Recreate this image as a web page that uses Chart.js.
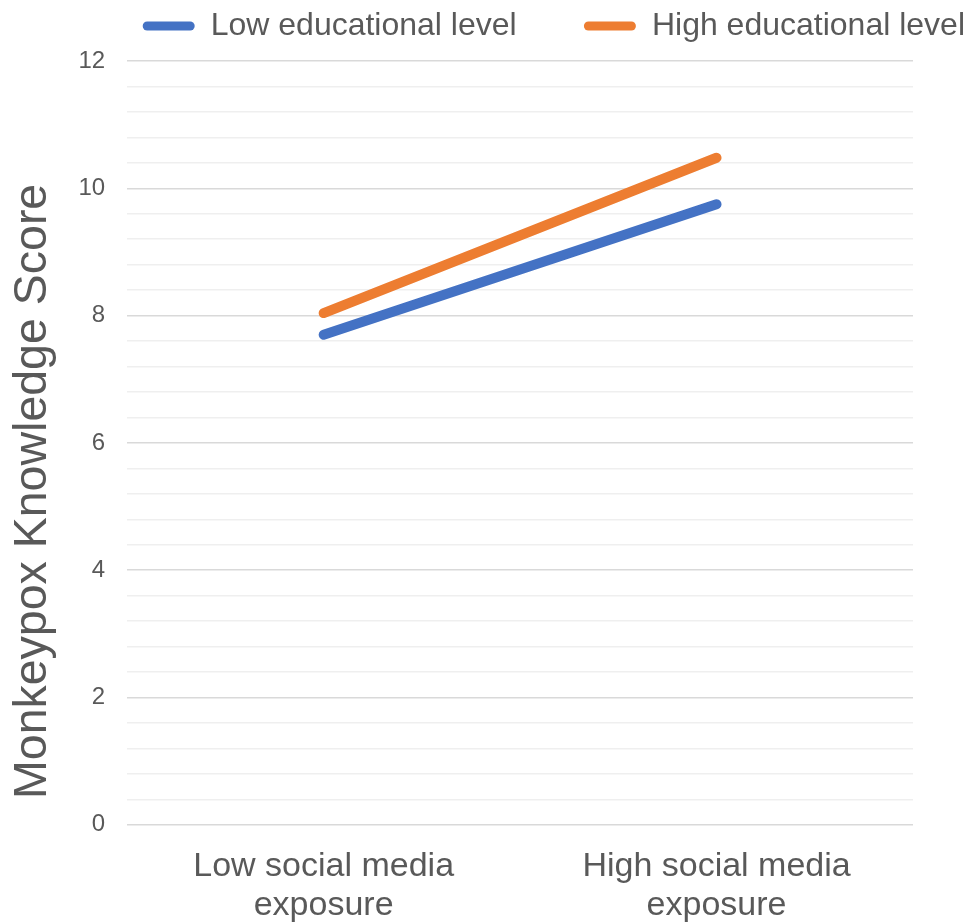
<!DOCTYPE html>
<html>
<head>
<meta charset="utf-8">
<script src="https://cdn.jsdelivr.net/npm/chart.js@4/dist/chart.umd.min.js"></script>
<style>
  html, body { margin: 0; padding: 0; background: #fff; }
  #wrap { width: 970px; height: 922px; }
</style>
</head>
<body>
<div id="wrap"><canvas id="knowledgeChart"></canvas></div>
<script>
const exposureLevels = [['Low social media', 'exposure'], ['High social media', 'exposure']];
const lowEducation = [7.70, 9.75];
const highEducation = [8.04, 10.48];
const yLabelTicks = [0, 2, 4, 6, 8, 10, 12];
const yMinorStep = 0.4;

const textColor = '#595959';
const fontFamily = '"Liberation Sans", Arial, sans-serif';

const isMajor = (v) => yLabelTicks.some((t) => Math.abs(t - v) < 1e-6);

// leaves a little room between the legend row and the plot
const legendGap = {
  id: 'legendGap',
  beforeInit(chart) {
    const fit = chart.legend.fit;
    chart.legend.fit = function () {
      fit.bind(chart.legend)();
      this.height += 9;
    };
  }
};

const ctx = document.getElementById('knowledgeChart').getContext('2d');
new Chart(ctx, {
  type: 'line',
  plugins: [legendGap],
  data: {
    labels: exposureLevels,
    datasets: [
      {
        label: 'Low educational level',
        data: lowEducation,
        borderColor: '#4472C4',
        backgroundColor: '#4472C4',
        borderWidth: 10,
        borderCapStyle: 'round',
        pointRadius: 0,
        pointHoverRadius: 0
      },
      {
        label: 'High educational level',
        data: highEducation,
        borderColor: '#ED7D31',
        backgroundColor: '#ED7D31',
        borderWidth: 10,
        borderCapStyle: 'round',
        pointRadius: 0,
        pointHoverRadius: 0
      }
    ]
  },
  options: {
    responsive: true,
    maintainAspectRatio: false,
    animation: false,
    layout: { padding: { left: 4, right: 0, top: 5, bottom: -25 } },
    plugins: {
      tooltip: { enabled: false },
      legend: {
        position: 'top',
        align: 'end',
        labels: {
          color: textColor,
          font: { family: fontFamily, size: 32 },
          boxWidth: 52,
          boxHeight: 9,
          useBorderRadius: true,
          borderRadius: 4.5,
          padding: 5,
          generateLabels: (chart) => {
            const items = Chart.defaults.plugins.legend.labels.generateLabels(chart);
            return items.map((item, i) => {
              item.lineWidth = 0;
              if (i < items.length - 1) item.text += '       ';
              return item;
            });
          }
        }
      }
    },
    scales: {
      x: {
        offset: true,
        grid: { display: false, drawTicks: false },
        border: { display: false },
        ticks: {
          color: textColor,
          font: { family: fontFamily, size: 34, lineHeight: 1.15 },
          padding: 22,
          maxRotation: 0
        }
      },
      y: {
        min: 0,
        max: 12,
        afterBuildTicks: (scale) => {
          const ticks = [];
          for (let i = 0; i <= Math.round(12 / yMinorStep); i++) {
            ticks.push({ value: Math.round(i * yMinorStep * 10) / 10 });
          }
          scale.ticks = ticks;
        },
        grid: {
          drawTicks: false,
          lineWidth: 1.5,
          color: (c) => isMajor(c.tick.value) ? '#d9d9d9' : '#efefef'
        },
        border: { display: false },
        ticks: {
          autoSkip: false,
          color: textColor,
          font: { family: fontFamily, size: 24 },
          padding: 22,
          callback: (v) => isMajor(v) ? String(Math.round(v)) : ''
        },
        title: {
          display: true,
          align: 'start',
          text: '  Monkeypox Knowledge Score',
          color: textColor,
          font: { family: fontFamily, size: 46.5, lineHeight: 1 },
          padding: { top: 6, bottom: 0 }
        }
      },
      // empty right-hand axis, keeps the plot clear of the legend's right end
      yRight: {
        position: 'right',
        grid: { display: false, drawTicks: false },
        border: { display: false },
        ticks: { display: false },
        afterFit: (scale) => { scale.width = 57; }
      }
    }
  }
});
</script>
</body>
</html>
